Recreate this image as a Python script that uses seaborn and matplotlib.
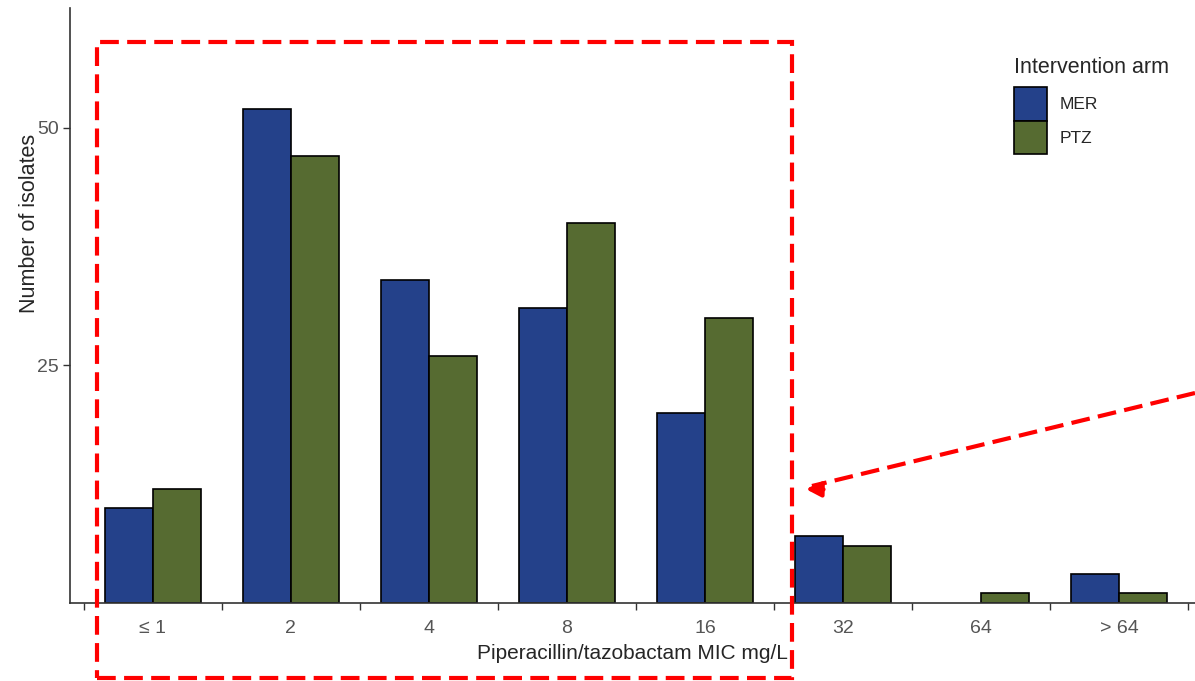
import numpy as np
import pandas as pd
import matplotlib

matplotlib.use("Agg")
import matplotlib.pyplot as plt
import seaborn as sns
from matplotlib.patches import Rectangle
from matplotlib.lines import Line2D


mic_labels = ["≤ 1", "2", "4", "8", "16", "32", "64", "> 64"]
mer_counts = [10, 52, 34, 31, 20, 7, 0, 3]
ptz_counts = [12, 47, 26, 40, 30, 6, 1, 1]
arms = ["MER", "PTZ"]
arm_colors = {"MER": "#24418a", "PTZ": "#566b31"}

df = pd.DataFrame({
    "mic": mic_labels * 2,
    "n": mer_counts + ptz_counts,
    "arm": ["MER"] * len(mic_labels) + ["PTZ"] * len(mic_labels),
})

sns.set_style("white")
plt.rcParams["font.family"] = ["Liberation Sans", "DejaVu Sans"]

W, H = 1195, 681
fig = plt.figure(figsize=(W / 100, H / 100), dpi=100)
ax = fig.add_axes([70 / W, 1 - 603 / H, 1 - 70 / W, (603 - 8) / H])

sns.barplot(data=df, x="mic", y="n", hue="arm", order=mic_labels, hue_order=arms,
            palette=arm_colors, saturation=1, width=0.7, edgecolor="black",
            linewidth=1.2, ax=ax)

# empty bars should not leave an outline on the axis
for cont in ax.containers:
    for p in cont:
        if p.get_height() == 0:
            p.set_linewidth(0)

ax.set_ylim(0, 62.6)
ax.set_xlim(-0.6, 7.55)
ax.set_yticks([25, 50])
ax.set_xticks(range(len(mic_labels)))
ax.set_xticklabels(mic_labels)
ax.set_xticks(np.arange(-0.5, 8, 1.0), minor=True)
ax.tick_params(axis="x", which="major", length=0, pad=12, labelsize=14, labelcolor="#555555")
ax.tick_params(axis="x", which="minor", length=5, width=1, color="#333333", bottom=True)
ax.tick_params(axis="y", length=5, width=1, color="#333333", left=True, labelsize=14,
               labelcolor="#555555", pad=3)

for s in ["top", "right"]:
    ax.spines[s].set_visible(False)
for s in ["left", "bottom"]:
    ax.spines[s].set_color("#333333")
    ax.spines[s].set_linewidth(1.2)

ax.set_xlabel("Piperacillin/tazobactam MIC mg/L", fontsize=15, labelpad=5)
ax.set_ylabel("Number of isolates", fontsize=15.5)
ax.yaxis.set_label_coords((40 - 70) / (W - 70), (603 - 223) / (603 - 8))

handles, labels = ax.get_legend_handles_labels()
for h in handles:
    h.set_edgecolor("black")
    h.set_linewidth(1.2)
leg = ax.legend(handles, labels, title="Intervention arm", loc="upper left",
                bbox_to_anchor=(1011 / W, 1 - 54 / H), bbox_transform=fig.transFigure,
                frameon=False, fontsize=12.5, title_fontsize=15.5, handlelength=1.85,
                handleheight=2.62, labelspacing=0.0, handletextpad=0.75, alignment="left",
                borderaxespad=0, borderpad=0.2)
leg._legend_box.sep = 6  # small gap between title and keys

# red dashed highlight box
fig.add_artist(Rectangle((97 / W, 1 - 678 / H), (792 - 97) / W, (678 - 42) / H,
                         transform=fig.transFigure, fill=False, edgecolor="red",
                         linewidth=3, linestyle=(0, (4.5, 2)), zorder=10))

# dashed arrow pointing at the box
x0, y0 = 1195 / W, 1 - 393 / H
x1, y1 = 812 / W, 1 - 486 / H
fig.add_artist(Line2D([x0, x1], [y0, y1], transform=fig.transFigure, color="red",
                      linewidth=3, linestyle=(0, (4.5, 2)), zorder=10))
ax.annotate("", xy=(803 / W, 1 - 489 / H), xytext=(x1 + 0.012, y1 - 0.012 * 93 / 383 * W / H),
            xycoords="figure fraction", textcoords="figure fraction",
            arrowprops=dict(arrowstyle="-|>", color="red", lw=3, mutation_scale=22),
            zorder=10)

fig.savefig("out.png", dpi=100)
